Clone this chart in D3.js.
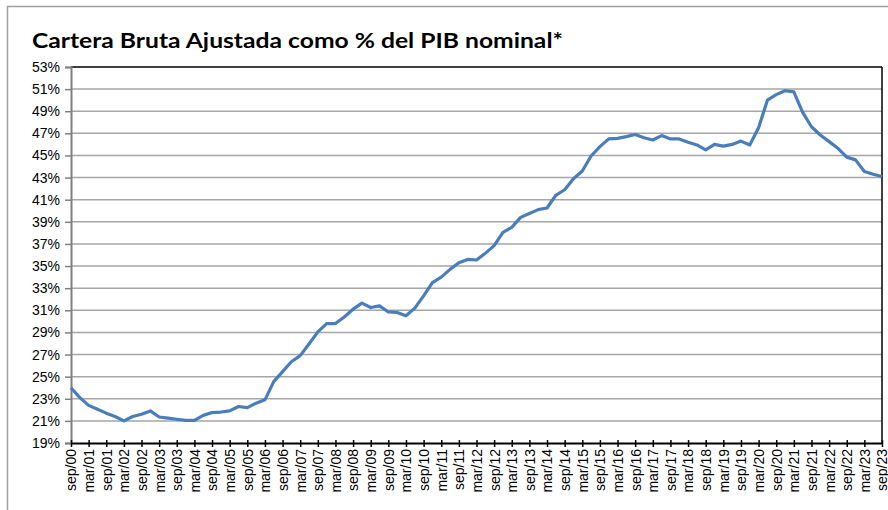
<!DOCTYPE html>
<html>
<head>
<meta charset="utf-8">
<script src="https://cdn.jsdelivr.net/npm/d3@7"></script>
<style>
  html, body { margin: 0; padding: 0; background: #fff; }
  svg { display: block; }
</style>
</head>
<body>
<svg id="chart" width="888" height="510"></svg>
<script>
// Quarterly observations, sep/00 .. sep/23
const quarters = [
  "sep/00","dic/00","mar/01","jun/01","sep/01","dic/01","mar/02","jun/02","sep/02","dic/02",
  "mar/03","jun/03","sep/03","dic/03","mar/04","jun/04","sep/04","dic/04","mar/05","jun/05",
  "sep/05","dic/05","mar/06","jun/06","sep/06","dic/06","mar/07","jun/07","sep/07","dic/07",
  "mar/08","jun/08","sep/08","dic/08","mar/09","jun/09","sep/09","dic/09","mar/10","jun/10",
  "sep/10","dic/10","mar/11","jun/11","sep/11","dic/11","mar/12","jun/12","sep/12","dic/12",
  "mar/13","jun/13","sep/13","dic/13","mar/14","jun/14","sep/14","dic/14","mar/15","jun/15",
  "sep/15","dic/15","mar/16","jun/16","sep/16","dic/16","mar/17","jun/17","sep/17","dic/17",
  "mar/18","jun/18","sep/18","dic/18","mar/19","jun/19","sep/19","dic/19","mar/20","jun/20",
  "sep/20","dic/20","mar/21","jun/21","sep/21","dic/21","mar/22","jun/22","sep/22","dic/22",
  "mar/23","jun/23","sep/23"
];

// Cartera bruta ajustada, % del PIB nominal
const carteraPIB = [
  24.0, 23.1, 22.4, 22.05, 21.7, 21.4, 21.0, 21.4, 21.6, 21.9,
  21.35, 21.25, 21.15, 21.05, 21.05, 21.5, 21.75, 21.8, 21.9, 22.3,
  22.2, 22.6, 22.9, 24.55, 25.45, 26.35, 26.9, 27.95, 29.05, 29.8,
  29.8, 30.4, 31.1, 31.65, 31.25, 31.4, 30.85, 30.8, 30.5, 31.2,
  32.3, 33.5, 34.0, 34.7, 35.3, 35.6, 35.55, 36.15, 36.85, 38.05,
  38.5, 39.4, 39.75, 40.1, 40.25, 41.4, 41.9, 42.9, 43.6, 44.95,
  45.8, 46.5, 46.55, 46.7, 46.9, 46.6, 46.4, 46.8, 46.5, 46.5,
  46.2, 45.95, 45.5, 46.0, 45.85, 46.0, 46.3, 45.95, 47.5, 50.0,
  50.5, 50.85, 50.75, 48.9, 47.6, 46.85, 46.25, 45.65, 44.85, 44.6,
  43.55, 43.3, 43.1
];

// Axis labels: every second quarter on x, every 2 points on y
const xTickLabels = quarters.filter(q => q.startsWith("sep") || q.startsWith("mar"));
const yTicks = [19,21,23,25,27,29,31,33,35,37,39,41,43,45,47,49,51,53];

const titleText = "Cartera Bruta Ajustada como % del PIB nominal*";

const svg = d3.select("#chart");
const plot = { left: 71, right: 882, top: 67, bottom: 443 };

// Outer chart frame
svg.append("rect")
  .attr("x", 7.5).attr("y", 6.5)
  .attr("width", 900).attr("height", 520)
  .attr("fill", "#fff")
  .attr("stroke", "#a0a0a0")
  .attr("stroke-width", 1.5);

svg.append("text")
  .attr("x", 32).attr("y", 48)
  .attr("font-family", "Lato, 'Open Sans', sans-serif")
  .attr("font-weight", "bold")
  .attr("font-size", 21)
  .attr("textLength", 531)
  .attr("lengthAdjust", "spacingAndGlyphs")
  .attr("fill", "#000")
  .text(titleText);

const x = d3.scalePoint().domain(quarters).range([plot.left, plot.right]).padding(0);
const y = d3.scaleLinear().domain([19, 53]).range([plot.bottom, plot.top]);

// Horizontal gridlines
svg.append("g")
  .selectAll("line")
  .data(yTicks.filter(v => v > 19 && v < 53))
  .join("line")
  .attr("x1", plot.left).attr("x2", plot.right)
  .attr("y1", d => y(d)).attr("y2", d => y(d))
  .attr("stroke", "#a6a6a6")
  .attr("stroke-width", 1.5);

// Plot area top and right borders
svg.append("line")
  .attr("x1", plot.left).attr("x2", plot.right)
  .attr("y1", y(53)).attr("y2", y(53))
  .attr("stroke", "#000").attr("stroke-width", 1.5);
svg.append("line")
  .attr("x1", plot.right).attr("x2", plot.right)
  .attr("y1", plot.top).attr("y2", plot.bottom)
  .attr("stroke", "#000").attr("stroke-width", 1.5);

// Y axis
const yAxis = d3.axisLeft(y)
  .tickValues(yTicks)
  .tickFormat(d => d + "%")
  .tickSize(6)
  .tickPadding(5);
const gy = svg.append("g")
  .attr("transform", `translate(${plot.left},0)`)
  .call(yAxis);
gy.select(".domain").attr("stroke", "#808080").attr("stroke-width", 2);
gy.selectAll(".tick line").attr("stroke", "#808080").attr("stroke-width", 1.5);
gy.selectAll(".tick text")
  .attr("font-family", "'Liberation Sans', Arial, sans-serif")
  .attr("font-size", 14)
  .attr("fill", "#000");

// X axis
const xAxis = d3.axisBottom(x)
  .tickValues(xTickLabels)
  .tickSizeInner(4)
  .tickSizeOuter(0)
  .tickPadding(6);
const gx = svg.append("g")
  .attr("transform", `translate(0,${plot.bottom})`)
  .call(xAxis);
gx.select(".domain").attr("stroke", "#000").attr("stroke-width", 2);
gx.selectAll(".tick line")
  .attr("y1", -3).attr("y2", 4)
  .attr("stroke", "#000").attr("stroke-width", 1.5);
gx.selectAll(".tick text")
  .attr("font-family", "'Liberation Sans', Arial, sans-serif")
  .attr("font-size", 14)
  .attr("fill", "#000")
  .attr("text-anchor", "end")
  .attr("dy", "0.35em")
  .attr("transform", "translate(0,6) rotate(-90)")
  .attr("x", 0).attr("y", 0);

// Series line
const line = d3.line()
  .x((d, i) => x(quarters[i]))
  .y(d => y(d));
svg.append("path")
  .datum(carteraPIB)
  .attr("d", line)
  .attr("fill", "none")
  .attr("stroke", "#4a7ebb")
  .attr("stroke-width", 3.2)
  .attr("stroke-linejoin", "round");
</script>
</body>
</html>
